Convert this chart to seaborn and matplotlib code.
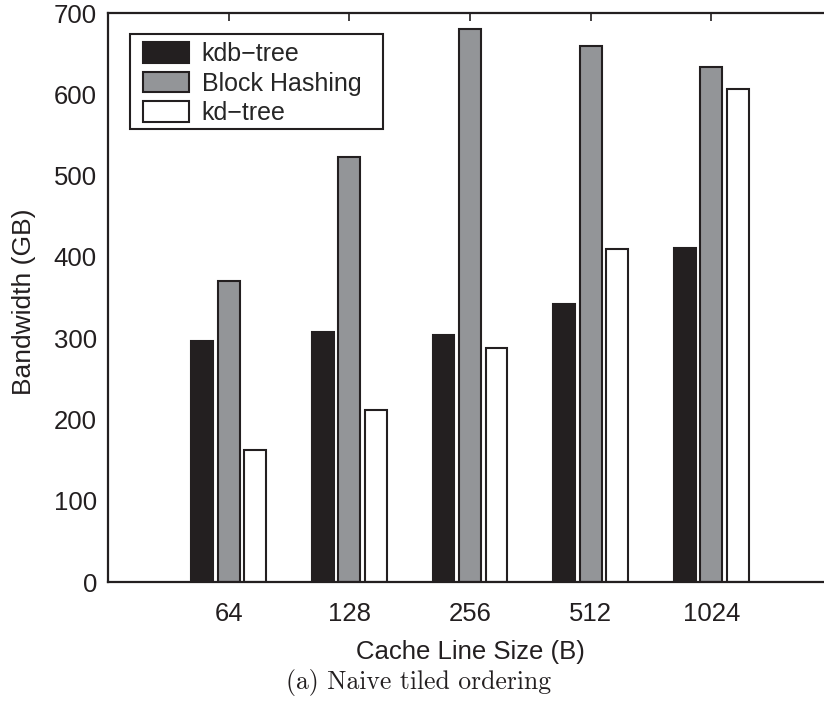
import pandas as pd
import seaborn as sb
from matplotlib import pyplot as plt
from matplotlib.patches import Rectangle

sizes = ['64', '128', '256', '512', '1024']
methods = ['kdb\u2212tree', 'Block Hashing', 'kd\u2212tree']
kdb_tree = [296, 307, 304, 342, 411]
block_hashing = [370, 523, 680, 660, 634]
kd_tree = [162, 212, 288, 410, 607]
colors = ['#231f20', '#939598', '#ffffff']

rows = []
for name, vals in zip(methods, [kdb_tree, block_hashing, kd_tree]):
    for s, v in zip(sizes, vals):
        rows.append({'size': s, 'method': name, 'bw': v})
df = pd.DataFrame(rows)

sb.set_style('white')
plt.rcParams['font.family'] = ['Liberation Sans', 'DejaVu Sans']
ink = '#231f20'

fig = plt.figure(figsize=(8.24, 7.02), dpi=100)
ax = fig.add_axes([108 / 824, 120 / 702, 724 / 824, 569 / 702])

sb.barplot(data=df, x='size', y='bw', hue='method', order=sizes, hue_order=methods,
           palette=colors, width=0.66, gap=0.18, saturation=1, ax=ax,
           edgecolor=ink, linewidth=1.5, legend=False, err_kws={'linewidth': 0})

ax.set_xlim(-1, 5)
ax.set_ylim(0, 700)
ax.set_yticks(range(0, 701, 100))
for side in ax.spines.values():
    side.set_linewidth(1.6)
    side.set_color(ink)
ax.tick_params(direction='in', length=6, width=1.2, color=ink, top=True, right=True,
               labelsize=18.5, colors=ink)
ax.tick_params(axis='x', pad=14.5)
ax.tick_params(axis='y', pad=8)

ax.set_xlabel('Cache Line Size (B)', fontsize=18.5, color=ink)
ax.set_ylabel('Bandwidth (GB)', fontsize=19, color=ink)
ax.xaxis.set_label_coords(0.5, -0.102)
ax.yaxis.set_label_coords(-0.099, 0.492)

# legend: entries without frame, box drawn separately
leg = ax.legend(ax.containers, methods, loc='upper left', bbox_to_anchor=(143 / 824, 1 - 42 / 702),
                bbox_transform=fig.transFigure, fontsize=18, handlelength=1.84, handleheight=0.88,
                labelspacing=0.22, handletextpad=0.5, borderpad=0, borderaxespad=0,
                frameon=False)
fig.add_artist(Rectangle((130 / 824, 1 - 129 / 702), 253 / 824, 95 / 702, transform=fig.transFigure,
                         fill=False, edgecolor=ink, linewidth=1.5, zorder=5))

fig.text(419 / 824, 1 - 683 / 702, '(a) Naive tiled ordering', fontsize=18.5,
         family='cmr10', ha='center', va='center', color=ink)

fig.savefig('out.png', dpi=100)
